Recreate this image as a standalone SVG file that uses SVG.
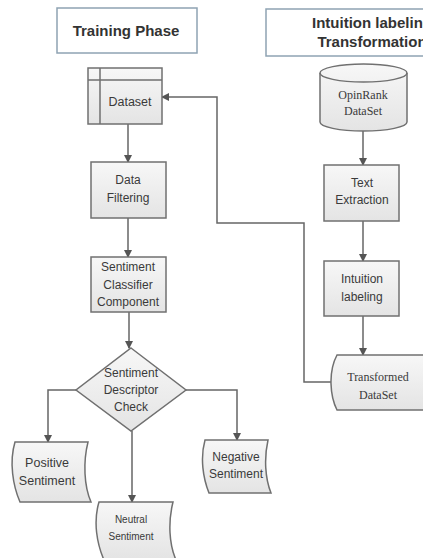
<svg xmlns="http://www.w3.org/2000/svg" width="423" height="558" viewBox="0 0 423 558">
<defs>
<linearGradient id="g" x1="0" y1="0" x2="0" y2="1">
<stop offset="0" stop-color="#f7f7f7"/>
<stop offset="1" stop-color="#e4e4e4"/>
</linearGradient>
<marker id="arr" markerWidth="8" markerHeight="8" refX="7" refY="4" orient="auto" markerUnits="userSpaceOnUse">
<path d="M0,0 L8,4 L0,8 Z" fill="#555"/>
</marker>
</defs>
<style>
.title{fill:#fff;stroke:#8ea3b3;stroke-width:1.5}
.tt{font-family:"Liberation Sans",Arial,sans-serif;font-weight:bold;font-size:15px;fill:#333;text-anchor:middle}
.box{fill:url(#g);stroke:#707070;stroke-width:1.5}
.t{font-family:"Liberation Sans",Arial,sans-serif;font-size:12px;fill:#3a3a3a;text-anchor:middle}
.s{font-family:"Liberation Serif","Times New Roman",serif;font-size:12px;fill:#3a3a3a;text-anchor:middle}
.c{fill:none;stroke:#666;stroke-width:1.5;marker-end:url(#arr)}
</style>
<rect width="423" height="558" fill="#fff"/>
<g id="title-training">
<rect class="title" x="57" y="8" width="140" height="45"/>
<text class="tt" x="126" y="36">Training Phase</text>
</g>
<g id="title-intuition">
<rect class="title" x="266" y="9" width="220" height="47"/>
<text class="tt" x="372" y="28">Intuition labeling</text>
<text class="tt" x="372" y="47">Transformation</text>
</g>
<g id="connectors">
<path class="c" d="M128,124 V162"/>
<path class="c" d="M128,218 V257"/>
<path class="c" d="M129,312 V348"/>
<path class="c" d="M76,390 H48 V442"/>
<path class="c" d="M132,431 V502"/>
<path class="c" d="M186,390 H237 V440"/>
<path class="c" d="M363,131 V165"/>
<path class="c" d="M363,221 V261"/>
<path class="c" d="M363,316 V355"/>
<path class="c" d="M333,382 H304 V223 H217 V97 H162"/>
</g>
<g id="dataset">
<rect class="box" x="88" y="68" width="74" height="56"/>
<path d="M100,68 V124 M88,80 H162" stroke="#707070" stroke-width="1.5" fill="none"/>
<text class="t" x="130" y="106" style="font-size:12.5px">Dataset</text>
</g>
<g id="data-filtering">
<rect class="box" x="91" y="162" width="75" height="56"/>
<text class="t" x="128" y="184">Data</text>
<text class="t" x="128" y="202">Filtering</text>
</g>
<g id="classifier">
<rect class="box" x="91" y="257" width="75" height="55"/>
<text class="t" x="128" y="271">Sentiment</text>
<text class="t" x="128" y="289">Classifier</text>
<text class="t" x="128" y="306">Component</text>
</g>
<g id="check">
<path class="box" d="M131,348 L186,390 L131,431 L76,390 Z"/>
<text class="t" x="131" y="377">Sentiment</text>
<text class="t" x="131" y="394">Descriptor</text>
<text class="t" x="131" y="411">Check</text>
</g>
<g id="positive">
<path class="box" d="M15,442 H88 C83,462 84,486 91,502 H20 C13,486 9,462 15,442 Z"/>
<text class="t" x="47" y="467" style="font-size:12.5px">Positive</text>
<text class="t" x="47" y="485" style="font-size:12.5px">Sentiment</text>
</g>
<g id="neutral">
<path class="box" d="M99,502 H173 C168,522 169,544 176,560 H104 C97,544 93,522 99,502 Z"/>
<text class="t" x="131" y="523" style="font-size:10px">Neutral</text>
<text class="t" x="131" y="540" style="font-size:10px">Sentiment</text>
</g>
<g id="negative">
<path class="box" d="M205,440 H268 C264,458 265,478 271,493 H209 C203,478 200,458 205,440 Z"/>
<text class="t" x="236" y="461" style="font-size:12px">Negative</text>
<text class="t" x="236" y="478" style="font-size:12px">Sentiment</text>
</g>
<g id="opinrank">
<path class="box" d="M320,73 A43.5,9 0 0 1 407,73 V122 A43.5,9 0 0 1 320,122 Z"/>
<path d="M320,73 A43.5,9 0 0 0 407,73" fill="none" stroke="#707070" stroke-width="1.5"/>
<text class="s" x="363" y="99">OpinRank</text>
<text class="s" x="363" y="115">DataSet</text>
</g>
<g id="text-extraction">
<rect class="box" x="324" y="165" width="75" height="56"/>
<text class="t" x="362" y="187">Text</text>
<text class="t" x="362" y="204">Extraction</text>
</g>
<g id="intuition-labeling">
<rect class="box" x="324" y="261" width="75" height="55"/>
<text class="t" x="362" y="283">Intuition</text>
<text class="t" x="362" y="301">labeling</text>
</g>
<g id="transformed">
<path class="box" d="M337,355 H430 V410 H337 C330,396 328,372 337,355 Z"/>
<text class="s" x="378" y="381">Transformed</text>
<text class="s" x="378" y="399">DataSet</text>
</g>
</svg>
